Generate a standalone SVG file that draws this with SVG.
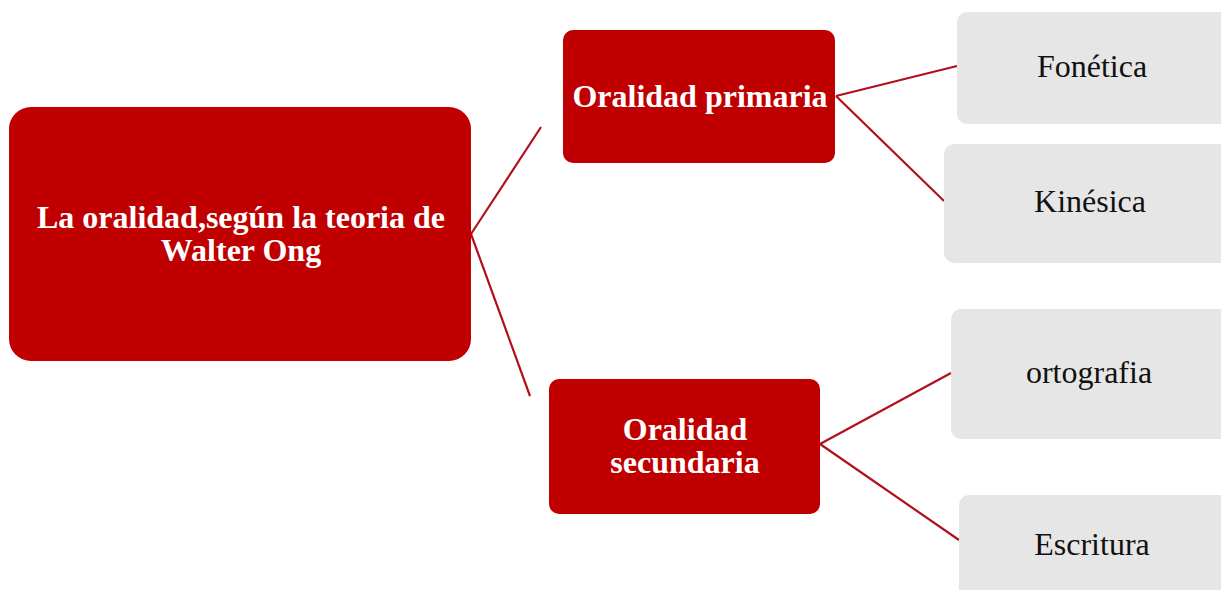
<svg xmlns="http://www.w3.org/2000/svg" width="1221" height="590" viewBox="0 0 1221 590">
<style>
.red{fill:#C00000}
.gray{fill:#E6E6E6}
.tb{font-family:"Liberation Serif","Times New Roman",serif;font-weight:bold;fill:#FFFFFF;text-anchor:middle;font-size:32px}
.tr{font-family:"Liberation Serif","Times New Roman",serif;fill:#111111;text-anchor:middle;font-size:32px}
.conn line{stroke:#B0101C;stroke-width:2.2;fill:none}
</style>
<rect width="1221" height="590" fill="#FFFFFF"/>
<g class="conn" id="connectors">
<line x1="471" y1="234" x2="541" y2="127"/>
<line x1="471" y1="234" x2="530" y2="396"/>
<line x1="836" y1="96" x2="957" y2="66"/>
<line x1="836" y1="96" x2="944" y2="201"/>
<line x1="820" y1="444" x2="951" y2="373"/>
<line x1="820" y1="444" x2="959" y2="540"/>
</g>
<g id="root">
<rect class="red" x="9" y="107" width="462" height="254" rx="22"/>
<text class="tb" x="241" y="228">La oralidad,según la teoria de</text>
<text class="tb" x="241" y="261">Walter Ong</text>
</g>
<g id="primaria">
<rect class="red" x="563" y="30" width="272" height="133" rx="10"/>
<text class="tb" x="700" y="107">Oralidad primaria</text>
</g>
<g id="secundaria">
<rect class="red" x="549" y="379" width="271" height="135" rx="10"/>
<text class="tb" x="685" y="440">Oralidad</text>
<text class="tb" x="685" y="473">secundaria</text>
</g>
<g id="fonetica">
<rect class="gray" x="957" y="12" width="290" height="112" rx="10"/>
<text class="tr" x="1092" y="77">Fonética</text>
</g>
<g id="kinesica">
<rect class="gray" x="944" y="144" width="300" height="119" rx="10"/>
<text class="tr" x="1090" y="212">Kinésica</text>
</g>
<g id="ortografia">
<rect class="gray" x="951" y="309" width="300" height="130" rx="10"/>
<text class="tr" x="1089" y="383">ortografia</text>
</g>
<g id="escritura">
<rect class="gray" x="959" y="495" width="300" height="120" rx="10"/>
<text class="tr" x="1092" y="555">Escritura</text>
</g>
</svg>
